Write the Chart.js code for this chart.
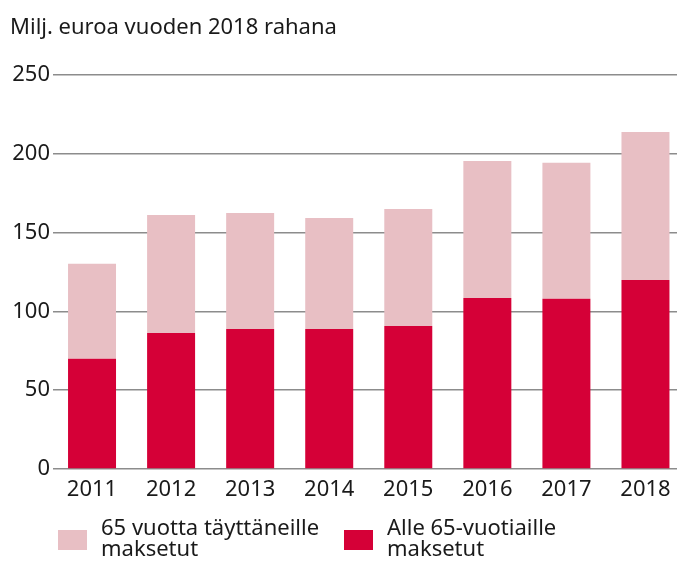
<!DOCTYPE html>
<html>
<head>
<meta charset="utf-8">
<script src="https://cdn.jsdelivr.net/npm/chart.js@4"></script>
<style>
  html, body { margin: 0; padding: 0; background: #fff; overflow: hidden; }
  #wrap { width: 685px; height: 561px; position: relative; }
</style>
</head>
<body>
<div id="wrap"><canvas id="chart"></canvas></div>
<script>
const years = ['2011', '2012', '2013', '2014', '2015', '2016', '2017', '2018'];
const under65 = [70, 86.3, 88.8, 88.8, 90.7, 108.5, 108, 120];
const over65 = [60.3, 74.9, 73.6, 70.5, 74.3, 86.9, 86.3, 93.9];
const yTicks = [0, 50, 100, 150, 200, 250];

const titleText = 'Milj. euroa vuoden 2018 rahana';
const FONT = '"Noto Sans", sans-serif';
const TEXT = '#1a1a1a';

// title + two-line legend drawn by hand
const extras = {
    id: 'extras',
    afterDraw(chart) {
        const ctx = chart.ctx;
        ctx.save();
        ctx.fillStyle = TEXT;
        ctx.font = '22px ' + FONT;
        ctx.textBaseline = 'middle';
        ctx.textAlign = 'left';
        ctx.fillText(titleText, 10, 28);

        const spots = [58, 344];
        const items = chart.data.datasets.slice().reverse();
        items.forEach((ds, i) => {
            const x = spots[i];
            ctx.fillStyle = ds.backgroundColor;
            ctx.fillRect(x, 530, 29, 20);
            ctx.fillStyle = TEXT;
            ds.legendLines.forEach((line, j) => {
                ctx.fillText(line, x + 43, 529 + j * 21);
            });
        });
        ctx.restore();
    }
};

new Chart(document.getElementById('chart'), {
    type: 'bar',
    data: {
        labels: years,
        datasets: [
            {
                label: 'Alle 65-vuotiaille maksetut',
                legendLines: ['Alle 65-vuotiaille', 'maksetut'],
                data: under65,
                backgroundColor: '#d50037'
            },
            {
                label: '65 vuotta täyttäneille maksetut',
                legendLines: ['65 vuotta täyttäneille', 'maksetut'],
                data: over65,
                backgroundColor: '#e8bfc4'
            }
        ]
    },
    options: {
        responsive: true,
        maintainAspectRatio: false,
        animation: false,
        layout: { padding: { left: 10, top: 75, right: 0, bottom: 52 } },
        datasets: { bar: { barPercentage: 0.607, categoryPercentage: 1 } },
        scales: {
            x: {
                stacked: true,
                afterFit: (s) => { s.height = 40; },
                grid: { display: false, drawTicks: false },
                border: { display: false },
                ticks: { color: TEXT, font: { family: FONT, size: 22 }, padding: 8 }
            },
            y: {
                stacked: true,
                min: 0,
                max: 250,
                afterFit: (s) => { s.width = 42.5; },
                afterBuildTicks: (s) => { s.ticks = yTicks.map(v => ({ value: v })); },
                grid: { color: '#8c8c8c', lineWidth: 1.5, drawTicks: false },
                border: { display: false },
                ticks: { color: TEXT, font: { family: FONT, size: 22 }, padding: 2.5 }
            }
        },
        plugins: {
            legend: { display: false },
            tooltip: { enabled: false }
        }
    },
    plugins: [extras]
});
</script>
</body>
</html>
